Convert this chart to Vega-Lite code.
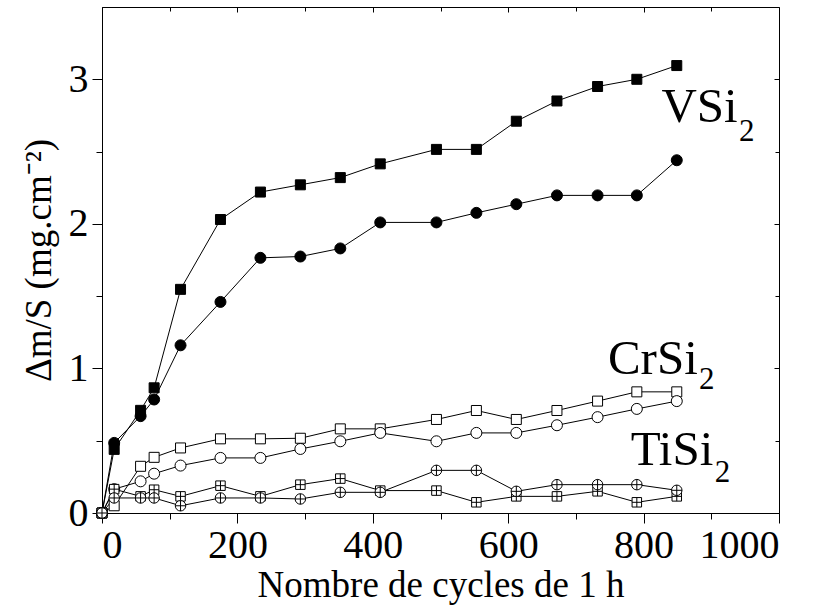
{
  "$schema": "https://vega.github.io/schema/vega-lite/v6.json",
  "autosize": "none",
  "width": 677,
  "height": 506,
  "padding": {"left": 102, "top": 7, "right": 37, "bottom": 95},
  "background": "white",
  "datasets": {
    "pts": [
      {"series":"VSi2-1","cycles":0,"dm":0},{"series":"VSi2-1","cycles":18,"dm":0.44},{"series":"VSi2-1","cycles":57,"dm":0.71},{"series":"VSi2-1","cycles":77,"dm":0.866},{"series":"VSi2-1","cycles":116,"dm":1.547},{"series":"VSi2-1","cycles":175,"dm":2.03},{"series":"VSi2-1","cycles":234,"dm":2.22},{"series":"VSi2-1","cycles":293,"dm":2.27},{"series":"VSi2-1","cycles":352,"dm":2.32},{"series":"VSi2-1","cycles":411,"dm":2.415},{"series":"VSi2-1","cycles":494,"dm":2.515},{"series":"VSi2-1","cycles":553,"dm":2.515},{"series":"VSi2-1","cycles":612,"dm":2.71},{"series":"VSi2-1","cycles":672,"dm":2.85},{"series":"VSi2-1","cycles":732,"dm":2.95},{"series":"VSi2-1","cycles":790,"dm":3.0},{"series":"VSi2-1","cycles":849,"dm":3.095},
      {"series":"VSi2-2","cycles":0,"dm":0},{"series":"VSi2-2","cycles":18,"dm":0.485},{"series":"VSi2-2","cycles":57,"dm":0.67},{"series":"VSi2-2","cycles":77,"dm":0.785},{"series":"VSi2-2","cycles":116,"dm":1.16},{"series":"VSi2-2","cycles":175,"dm":1.46},{"series":"VSi2-2","cycles":234,"dm":1.765},{"series":"VSi2-2","cycles":293,"dm":1.774},{"series":"VSi2-2","cycles":352,"dm":1.83},{"series":"VSi2-2","cycles":411,"dm":2.01},{"series":"VSi2-2","cycles":494,"dm":2.01},{"series":"VSi2-2","cycles":553,"dm":2.076},{"series":"VSi2-2","cycles":612,"dm":2.136},{"series":"VSi2-2","cycles":672,"dm":2.197},{"series":"VSi2-2","cycles":732,"dm":2.197},{"series":"VSi2-2","cycles":790,"dm":2.197},{"series":"VSi2-2","cycles":849,"dm":2.44},
      {"series":"CrSi2-1","cycles":0,"dm":0},{"series":"CrSi2-1","cycles":18,"dm":0.05},{"series":"CrSi2-1","cycles":57,"dm":0.323},{"series":"CrSi2-1","cycles":77,"dm":0.385},{"series":"CrSi2-1","cycles":116,"dm":0.45},{"series":"CrSi2-1","cycles":175,"dm":0.513},{"series":"CrSi2-1","cycles":234,"dm":0.513},{"series":"CrSi2-1","cycles":293,"dm":0.517},{"series":"CrSi2-1","cycles":352,"dm":0.582},{"series":"CrSi2-1","cycles":411,"dm":0.582},{"series":"CrSi2-1","cycles":494,"dm":0.647},{"series":"CrSi2-1","cycles":553,"dm":0.709},{"series":"CrSi2-1","cycles":612,"dm":0.647},{"series":"CrSi2-1","cycles":672,"dm":0.709},{"series":"CrSi2-1","cycles":732,"dm":0.774},{"series":"CrSi2-1","cycles":790,"dm":0.838},{"series":"CrSi2-1","cycles":849,"dm":0.838},
      {"series":"CrSi2-2","cycles":0,"dm":0},{"series":"CrSi2-2","cycles":18,"dm":0.165},{"series":"CrSi2-2","cycles":57,"dm":0.219},{"series":"CrSi2-2","cycles":77,"dm":0.272},{"series":"CrSi2-2","cycles":116,"dm":0.328},{"series":"CrSi2-2","cycles":175,"dm":0.381},{"series":"CrSi2-2","cycles":234,"dm":0.381},{"series":"CrSi2-2","cycles":293,"dm":0.443},{"series":"CrSi2-2","cycles":352,"dm":0.496},{"series":"CrSi2-2","cycles":411,"dm":0.554},{"series":"CrSi2-2","cycles":494,"dm":0.496},{"series":"CrSi2-2","cycles":553,"dm":0.554},{"series":"CrSi2-2","cycles":612,"dm":0.554},{"series":"CrSi2-2","cycles":672,"dm":0.607},{"series":"CrSi2-2","cycles":732,"dm":0.663},{"series":"CrSi2-2","cycles":790,"dm":0.72},{"series":"CrSi2-2","cycles":849,"dm":0.774},
      {"series":"TiSi2-1","cycles":0,"dm":0},{"series":"TiSi2-1","cycles":18,"dm":0.165},{"series":"TiSi2-1","cycles":57,"dm":0.115},{"series":"TiSi2-1","cycles":77,"dm":0.161},{"series":"TiSi2-1","cycles":116,"dm":0.115},{"series":"TiSi2-1","cycles":175,"dm":0.189},{"series":"TiSi2-1","cycles":234,"dm":0.115},{"series":"TiSi2-1","cycles":293,"dm":0.196},{"series":"TiSi2-1","cycles":352,"dm":0.238},{"series":"TiSi2-1","cycles":411,"dm":0.155},{"series":"TiSi2-1","cycles":494,"dm":0.155},{"series":"TiSi2-1","cycles":553,"dm":0.074},{"series":"TiSi2-1","cycles":612,"dm":0.115},{"series":"TiSi2-1","cycles":672,"dm":0.115},{"series":"TiSi2-1","cycles":732,"dm":0.15},{"series":"TiSi2-1","cycles":790,"dm":0.074},{"series":"TiSi2-1","cycles":849,"dm":0.115},
      {"series":"TiSi2-2","cycles":0,"dm":0},{"series":"TiSi2-2","cycles":18,"dm":0.104},{"series":"TiSi2-2","cycles":57,"dm":0.104},{"series":"TiSi2-2","cycles":77,"dm":0.104},{"series":"TiSi2-2","cycles":116,"dm":0.05},{"series":"TiSi2-2","cycles":175,"dm":0.104},{"series":"TiSi2-2","cycles":234,"dm":0.104},{"series":"TiSi2-2","cycles":293,"dm":0.097},{"series":"TiSi2-2","cycles":352,"dm":0.143},{"series":"TiSi2-2","cycles":411,"dm":0.143},{"series":"TiSi2-2","cycles":494,"dm":0.295},{"series":"TiSi2-2","cycles":553,"dm":0.295},{"series":"TiSi2-2","cycles":612,"dm":0.15},{"series":"TiSi2-2","cycles":672,"dm":0.196},{"series":"TiSi2-2","cycles":732,"dm":0.196},{"series":"TiSi2-2","cycles":790,"dm":0.196},{"series":"TiSi2-2","cycles":849,"dm":0.157}
    ],
    "labels": [
      {"name":"VSi","cycles":939,"dm":2.705},
      {"name":"CrSi","cycles":880,"dm":0.959},
      {"name":"TiSi","cycles":903,"dm":0.335}
    ],
    "subs": [
      {"name":"2","cycles":941,"dm":2.573},
      {"name":"2","cycles":882,"dm":0.855},
      {"name":"2","cycles":905,"dm":0.217}
    ]
  },
  "layer": [
    {
      "data": {"name": "pts"},
      "mark": {"type": "line", "color": "black", "strokeWidth": 1},
      "encoding": {
        "x": {"field": "cycles", "type": "quantitative", "scale": {"domain": [0, 1000], "nice": false},
              "axis": {"orient": "bottom", "values": [0,200,400,600,800,1000], "format": "d", "tickSize": 10, "labelPadding": 2, "title": "Nombre de cycles de 1 h", "titlePadding": 2}},
        "y": {"field": "dm", "type": "quantitative", "scale": {"domain": [0, 3.5], "nice": false},
              "axis": {"orient": "left", "values": [0,1,2,3], "format": "d", "tickSize": 10, "labelPadding": 4, "title": "Δm/S (mg.cm⁻²)", "titlePadding": 10}},
        "detail": {"field": "series"}
      }
    },
    {
      "data": {"name": "pts"},
      "mark": {"type": "point", "filled": true, "stroke": "black", "strokeWidth": 1, "opacity": 1},
      "encoding": {
        "x": {"field": "cycles", "type": "quantitative", "scale": {"domain": [0, 1000], "nice": false},
              "axis": {"orient": "bottom", "values": [100,300,500,700,900], "tickSize": 6, "labels": false, "domain": false, "title": null}},
        "y": {"field": "dm", "type": "quantitative", "scale": {"domain": [0, 3.5], "nice": false},
              "axis": {"orient": "left", "values": [0.5,1.5,2.5], "tickSize": 6, "labels": false, "domain": false, "title": null}},
        "shape": {"field": "series", "type": "nominal", "legend": null,
                  "scale": {"domain": ["VSi2-1","VSi2-2","CrSi2-1","CrSi2-2","TiSi2-1","TiSi2-2"],
                            "range": ["square","circle","square","circle","M-1,-1H1V1H-1Z M-1,0H1 M0,-1V1","M-1,0A1,1 0 1,0 1,0A1,1 0 1,0 -1,0Z M-1,0H1 M0,-1V1"]}},
        "fill": {"field": "series", "type": "nominal", "legend": null,
                 "scale": {"domain": ["VSi2-1","VSi2-2","CrSi2-1","CrSi2-2","TiSi2-1","TiSi2-2"],
                           "range": ["black","black","white","white","white","white"]}},
        "size": {"field": "series", "type": "nominal", "legend": null,
                 "scale": {"type": "ordinal", "domain": ["VSi2-1","VSi2-2","CrSi2-1","CrSi2-2","TiSi2-1","TiSi2-2"],
                           "range": [100,121,100,121,90,110]}}
      }
    },
    {
      "data": {"name": "labels"},
      "mark": {"type": "text", "font": "Times New Roman, Liberation Serif, Times, serif", "fontSize": 49, "align": "right", "baseline": "alphabetic", "color": "black"},
      "encoding": {
        "x": {"field": "cycles", "type": "quantitative", "scale": {"domain": [0, 1000], "nice": false},
              "axis": {"orient": "top", "values": [0,200,400,600,800,1000], "tickSize": -5, "labels": false, "domain": false, "title": null}},
        "y": {"field": "dm", "type": "quantitative", "scale": {"domain": [0, 3.5], "nice": false},
              "axis": {"orient": "right", "values": [0,1,2,3], "tickSize": -5, "labels": false, "domain": false, "title": null}},
        "text": {"field": "name"}
      }
    },
    {
      "data": {"name": "subs"},
      "mark": {"type": "text", "font": "Times New Roman, Liberation Serif, Times, serif", "fontSize": 31, "align": "left", "baseline": "alphabetic", "color": "black"},
      "encoding": {
        "x": {"field": "cycles", "type": "quantitative", "scale": {"domain": [0, 1000], "nice": false},
              "axis": {"orient": "top", "values": [100,300,500,700,900], "tickSize": -4, "labels": false, "domain": false, "title": null}},
        "y": {"field": "dm", "type": "quantitative", "scale": {"domain": [0, 3.5], "nice": false},
              "axis": {"orient": "right", "values": [0.5,1.5,2.5], "tickSize": -4, "labels": false, "domain": false, "title": null}},
        "text": {"field": "name"}
      }
    }
  ],
  "resolve": {"axis": {"x": "independent", "y": "independent"}},
  "config": {
    "view": {"stroke": "black", "strokeWidth": 1},
    "axis": {
      "grid": false,
      "domainColor": "black", "domainWidth": 1,
      "tickColor": "black", "tickWidth": 1,
      "labelColor": "black", "titleColor": "black",
      "labelFont": "Times New Roman, Liberation Serif, Times, serif", "titleFont": "Times New Roman, Liberation Serif, Times, serif",
      "labelFontSize": 40, "titleFontSize": 37, "titleFontWeight": "normal"
    }
  }
}
